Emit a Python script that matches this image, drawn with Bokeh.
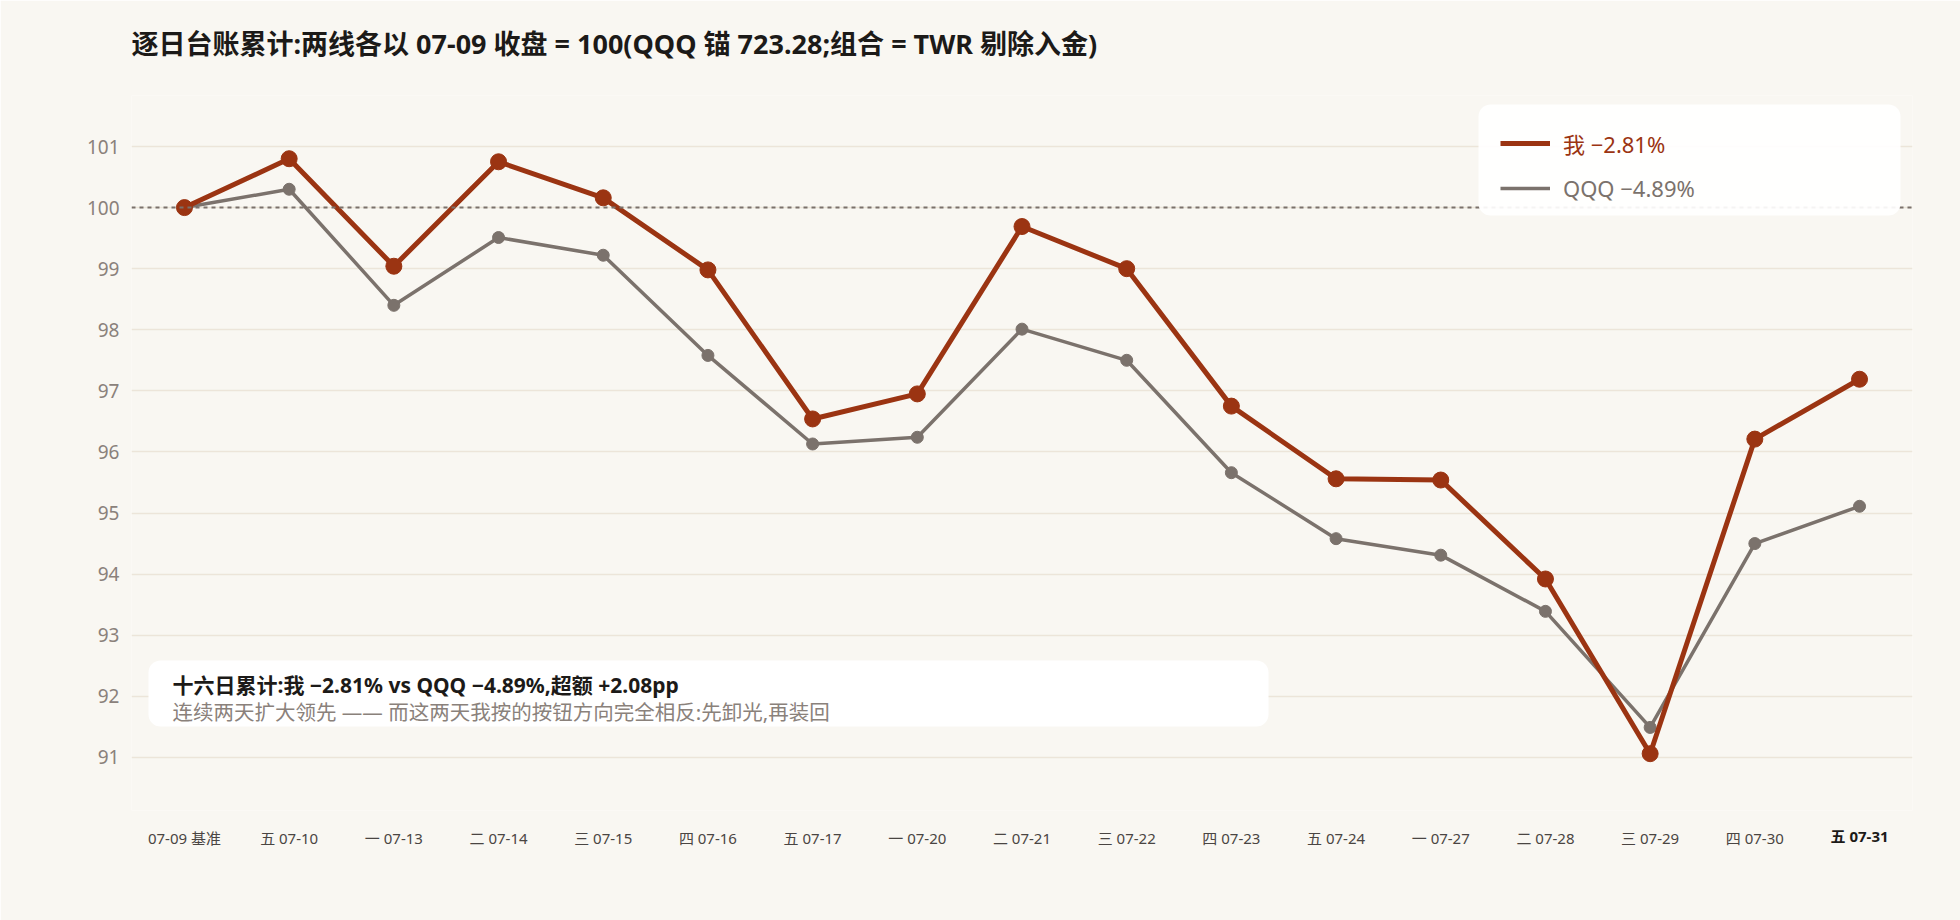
from bokeh.plotting import figure
from bokeh.models import (ColumnDataSource, Range1d, FixedTicker, Span, Label,
                          BoxAnnotation, Legend, LegendItem, LinearAxis)
from bokeh.embed import file_html
from bokeh.resources import INLINE

# data (index 100 = 07-09 close)
dates = ["07-09 基准", "五 07-10", "一 07-13", "二 07-14", "三 07-15", "四 07-16",
         "五 07-17", "一 07-20", "二 07-21", "三 07-22", "四 07-23", "五 07-24",
         "一 07-27", "二 07-28", "三 07-29", "四 07-30", "五 07-31"]
me = [100, 100.80, 99.04, 100.75, 100.16, 98.98, 96.54, 96.95, 99.69, 99.00,
      96.75, 95.56, 95.54, 93.92, 91.06, 96.21, 97.19]
qqq = [100, 100.30, 98.40, 99.51, 99.22, 97.58, 96.13, 96.24, 98.01, 97.50,
       95.66, 94.58, 94.31, 93.39, 91.49, 94.50, 95.11]
y_ticks = [91, 92, 93, 94, 95, 96, 97, 98, 99, 100, 101]

title_text = "逐日台账累计:两线各以 07-09 收盘 = 100(QQQ 锚 723.28;组合 = TWR 剔除入金)"
me_label = "我 −2.81%"
qqq_label = "QQQ −4.89%"
note_1 = "十六日累计:我 −2.81% vs QQQ −4.89%,超额 +2.08pp"
note_2 = "连续两天扩大领先 —— 而这两天我按的按钮方向完全相反:先卸光,再装回"

FONT = "Noto Sans, Noto Sans CJK SC"
BG = "#f9f7f2"
RED = "#9b3412"
GREY = "#7b726c"

src = ColumnDataSource(dict(x=list(range(len(dates))), me=me, qqq=qqq))

p = figure(width=1960, height=920, output_backend="svg", toolbar_location=None,
           x_range=Range1d(-0.506, len(dates) - 1 + 0.506),
           y_range=Range1d(90.13, 101.835),
           min_border_left=131, min_border_right=48,
           min_border_top=95, min_border_bottom=110)
p.background_fill_color = BG
p.border_fill_color = BG
p.outline_line_color = None
date_axis = p.xaxis[0]

# blank axis above: one invisible tick, only to hold the title off the frame
spacer = LinearAxis(ticker=FixedTicker(ticks=[0]), major_label_overrides={0: ""},
                    axis_line_color=None, major_tick_line_color=None,
                    minor_tick_line_color=None, major_tick_in=0,
                    major_tick_out=29, minor_tick_out=0,
                    major_label_standoff=0, major_label_text_font_size="1px")
p.add_layout(spacer, "above")

p.title.text = title_text
p.title.text_font = FONT
p.title.text_font_size = "27px"
p.title.text_font_style = "bold"
p.title.text_color = "#1c1a18"
p.title.align = "left"
p.title.standoff = 10

# x axis: all dates but the last in regular; the last one bold on a second
# axis, pulled up onto the same line
last_axis = LinearAxis()
p.add_layout(last_axis, "below")
date_axis.ticker = FixedTicker(ticks=list(range(len(dates) - 1)))
date_axis.major_label_overrides = {i: d for i, d in enumerate(dates[:-1])}
last_axis.ticker = FixedTicker(ticks=[len(dates) - 1])
last_axis.major_label_overrides = {len(dates) - 1: dates[-1]}
last_axis.major_label_text_font_style = "bold"
p.yaxis.ticker = FixedTicker(ticks=y_ticks)
for ax in [date_axis, last_axis] + list(p.yaxis):
    ax.axis_line_color = None
    ax.major_tick_line_color = None
    ax.minor_tick_line_color = None
    ax.major_tick_out = 0
    ax.major_tick_in = 0
    ax.minor_tick_out = 0
    ax.major_label_text_font = FONT
for ax in (date_axis, last_axis):
    ax.major_label_text_font_size = "15px"
date_axis.major_label_standoff = 17
last_axis.major_label_standoff = -25
date_axis.major_label_text_color = "#4a4542"
last_axis.major_label_text_color = "#1c1a18"
p.yaxis.major_label_text_font_size = "19px"
p.yaxis.major_label_text_color = "#8a817b"
p.yaxis.major_label_standoff = 12

p.xgrid.grid_line_color = None
p.ygrid.grid_line_color = "#ece5d9"
p.ygrid.grid_line_width = 1.7

p.add_layout(Span(location=100, dimension="width", line_color="#7a716b",
                  line_width=2, line_dash="4 4"))

q_line = p.line("x", "qqq", source=src, line_color=GREY, line_width=3.5)
p.scatter("x", "qqq", source=src, size=12, color=GREY)
m_line = p.line("x", "me", source=src, line_color=RED, line_width=5)
p.scatter("x", "me", source=src, size=16, color=RED)

# legend box
p.add_layout(BoxAnnotation(left=1347, right=1769, bottom=595, top=706,
                           left_units="screen", right_units="screen",
                           bottom_units="screen", top_units="screen",
                           fill_color="white", fill_alpha=0.92, line_color=None,
                           border_radius=12))
for rend, lab, col, yy in ((m_line, me_label, RED, 651), (q_line, qqq_label, GREY, 607)):
    lg = Legend(items=[LegendItem(label=lab, renderers=[rend])],
                location=(1369, yy), padding=0, margin=0, glyph_width=50,
                glyph_height=30, label_standoff=13, label_text_font=FONT,
                label_text_font_size="22px", label_text_color=col,
                background_fill_alpha=0, border_line_alpha=0)
    p.add_layout(lg)

# note box
p.add_layout(BoxAnnotation(left=17, right=1137, bottom=84, top=150,
                           left_units="screen", right_units="screen",
                           bottom_units="screen", top_units="screen",
                           fill_color="white", fill_alpha=1, line_color=None,
                           border_radius=12))
p.add_layout(Label(x=41, y=126, x_units="screen", y_units="screen", text=note_1,
                   text_font=FONT, text_font_size="21px", text_font_style="bold",
                   text_color="#1c1a18", text_baseline="middle"))
p.add_layout(Label(x=41, y=99, x_units="screen", y_units="screen", text=note_2,
                   text_font=FONT, text_font_size="20.5px",
                   text_color="#8a817b", text_baseline="middle"))

open("out.html", "w").write(file_html(p, INLINE))
